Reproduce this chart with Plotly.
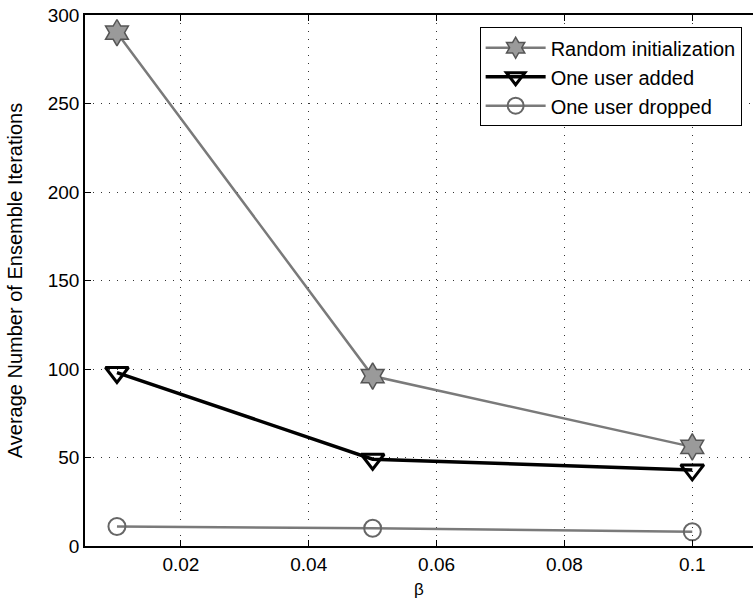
import plotly.graph_objects as go

beta = [0.01, 0.05, 0.1]
random_init = [290, 96, 56]
user_added = [98, 49, 43]
user_dropped = [11, 10, 8]

x_ticks = [0.02, 0.04, 0.06, 0.08, 0.1]
x_tick_labels = ["0.02", "0.04", "0.06", "0.08", "0.1"]
y_ticks = [0, 50, 100, 150, 200, 250, 300]

FONT = "Liberation Sans, Arial, sans-serif"
GRAY = "#7a7a7a"

fig = go.Figure()
fig.add_trace(go.Scatter(
    x=beta, y=random_init, mode="lines+markers", name="Random initialization",
    line=dict(color=GRAY, width=2.5),
    marker=dict(symbol="hexagram", size=20, color="#9a9a9a", line=dict(color="#555555", width=1.5)),
))
fig.add_trace(go.Scatter(
    x=beta, y=user_added, mode="lines+markers", name="One user added",
    line=dict(color="black", width=3.5),
    marker=dict(symbol="triangle-down-open", size=20, color="black", line=dict(color="black", width=3)),
))
fig.add_trace(go.Scatter(
    x=beta, y=user_dropped, mode="lines+markers", name="One user dropped",
    line=dict(color=GRAY, width=2.5),
    marker=dict(symbol="circle-open", size=17, color="#666666", line=dict(color="#666666", width=2)),
))

XR = [0.005, 0.1095]

fig.update_layout(
    template="none",
    width=753, height=605,
    margin=dict(l=85, r=0, t=15, b=59, autoexpand=False),
    paper_bgcolor="white", plot_bgcolor="white",
    font=dict(family=FONT, size=19, color="black"),
    showlegend=True,
    legend=dict(
        x=0.983, y=0.977, xanchor="right", yanchor="top",
        bgcolor="white", bordercolor="black", borderwidth=1,
        font=dict(family=FONT, size=20, color="black"),
        tracegroupgap=0, itemwidth=60,
    ),
    xaxis=dict(
        range=XR, tickvals=x_ticks, ticktext=x_tick_labels,
        ticks="inside", ticklen=6, tickcolor="black",
        showline=True, linecolor="black", linewidth=1.5, mirror="ticks",
        showgrid=True, gridcolor="#333333", gridwidth=1, griddash="1px,7px",
        zeroline=False, automargin=False,
        title=dict(text="β", standoff=10, font=dict(size=17)),
        tickfont=dict(size=19),
    ),
    yaxis=dict(
        range=[0, 300], tickvals=y_ticks,
        ticks="inside", ticklen=6, tickcolor="black",
        showline=True, linecolor="black", linewidth=1.5, mirror=False,
        showgrid=True, gridcolor="#333333", gridwidth=1, griddash="1px,7px",
        zeroline=False, automargin=False,
        title=dict(text="Average Number of Ensemble Iterations", standoff=20, font=dict(size=20)),
        tickfont=dict(size=19),
    ),
)

fig.write_html("out.html", config={"displayModeBar": False})
